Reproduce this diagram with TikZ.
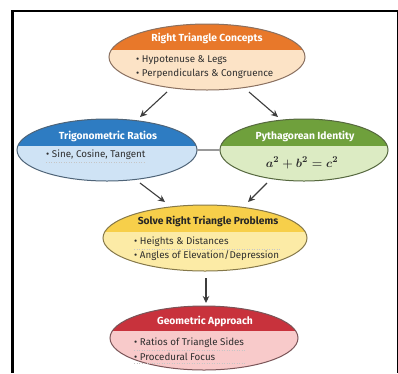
\documentclass[tikz,border=0pt]{standalone}
\usepackage{fontspec}
\setmainfont{Fira Sans}
\usetikzlibrary{shapes.geometric,arrows.meta}
\definecolor{orhead}{HTML}{E8782A}
\definecolor{orbody}{HTML}{FCE3C6}
\definecolor{orline}{HTML}{8A7060}
\definecolor{blhead}{HTML}{2E7CC2}
\definecolor{blbody}{HTML}{CFE3F5}
\definecolor{blline}{HTML}{4F6478}
\definecolor{grhead}{HTML}{6FA03C}
\definecolor{grbody}{HTML}{DCEBC3}
\definecolor{grline}{HTML}{56683F}
\definecolor{yehead}{HTML}{F7CF4A}
\definecolor{yebody}{HTML}{FCEBA6}
\definecolor{yeline}{HTML}{85784A}
\definecolor{rehead}{HTML}{C8323C}
\definecolor{rebody}{HTML}{F8CACA}
\definecolor{reline}{HTML}{7A5558}
\definecolor{txt}{HTML}{2E2E2E}
\definecolor{arrc}{HTML}{3D3D3D}
\newcommand{\eqtext}{$a^2 + b^2 = c^2$}
\begin{document}
\begin{tikzpicture}[x=1pt,y=-1pt,
  ellbox/.style n args={4}{ellipse, inner sep=0pt, outer sep=0pt, draw=#4, line width=1pt, fill=#3,
    path picture={\fill[#2] ([yshift=2pt]path picture bounding box.north west) rectangle ([yshift=-#1pt]path picture bounding box.north east);}},
  hdr/.style={inner sep=0pt, text=white, font=\fontsize{10.3}{11}\selectfont\bfseries},
  bul/.style={inner sep=0pt, anchor=west, text=txt, font=\fontsize{9.8}{10}\selectfont},
  arr/.style={-{Stealth[length=7pt,width=6.5pt]}, draw=arrc, line width=1.1pt},
  uline/.style={draw=gray!45, line width=0.5pt, dotted}
]
\useasboundingbox (0,0) rectangle (398,373);
\fill[white] (0,0) rectangle (398,373);
% frame
\draw[line width=1.8pt] (11,11) -- (397.5,11);
\draw[line width=3pt] (12,10.5) -- (12,373);
\draw[line width=1pt] (397,11) -- (397,373);

% ellipses
\node[ellbox={26}{orhead}{orbody}{orline}, minimum width=196pt, minimum height=66pt] (top) at (207,57) {};
\node[ellbox={27}{blhead}{blbody}{blline}, minimum width=180pt, minimum height=62pt] (blue) at (107,150) {};
\node[ellbox={27}{grhead}{grbody}{grline}, minimum width=168pt, minimum height=62pt] (green) at (304,150) {};
\node[ellbox={27}{yehead}{yebody}{yeline}, minimum width=204pt, minimum height=66pt] (yellow) at (205,238) {};
\node[ellbox={25}{rehead}{rebody}{reline}, minimum width=188pt, minimum height=64pt] (red) at (204,338) {};

% texts
\node[hdr] (topH) at (207,38) {Right Triangle Concepts};
\node[bul] (topB1) at (136,60) {• Hypotenuse \& Legs};
\node[bul] (topB2) at (136,74) {• Perpendiculars \& Congruence};

\node[hdr] (blueH) at (108,136) {Trigonometric Ratios};
\node[bul] (blueB1) at (46,155) {• Sine, Cosine, Tangent};
\draw[uline] ([yshift=-2pt]blueB1.south west) -- ([yshift=-2pt]blueB1.south east);

\node[hdr] (greenH) at (305,136) {Pythagorean Identity};
\node[inner sep=0pt, text=txt, font=\fontsize{13}{13}\selectfont\boldmath] (greenEq) at (302,163) {\eqtext};

\node[hdr, text=black!85] (yellowH) at (208,221) {Solve Right Triangle Problems};
\node[bul] (yellowB1) at (134,242) {• Heights \& Distances};
\node[bul] (yellowB2) at (134,256) {• Angles of Elevation/Depression};
\draw[uline] ([yshift=-2pt]yellowB1.south west) -- ([yshift=-2pt]yellowB1.south west -| yellowB2.east);

\node[hdr] (redH) at (205,321) {Geometric Approach};
\node[bul] (redB1) at (134,343) {• Ratios of Triangle Sides};
\node[bul] (redB2) at (134,357) {• Procedural Focus};
\draw[uline] ([yshift=-2pt]redB1.south west) -- ([yshift=-2pt]redB1.south east);
\draw[uline] ([yshift=-2pt]redB2.south west) -- ([yshift=-2pt]redB2.south west -| redB1.east);

% connectors
\draw[arr] ([xshift=-40pt,yshift=-35pt]top.center) -- ([xshift=33pt,yshift=33pt]blue.center);
\draw[arr] ([xshift=42pt,yshift=-35pt]top.center) -- ([xshift=-26pt,yshift=33pt]green.center);
\draw[draw=gray!80, line width=1.5pt] (blue.east) -- (green.west);
\draw[arr] ([xshift=33pt,yshift=-33pt]blue.center) -- ([xshift=-40pt,yshift=36pt]yellow.center);
\draw[arr] ([xshift=-37pt,yshift=-33pt]green.center) -- ([xshift=43pt,yshift=36pt]yellow.center);
\draw[arr] ([xshift=1pt,yshift=-40pt]yellow.center) -- ([xshift=2pt,yshift=35pt]red.center);
\end{tikzpicture}
\end{document}
